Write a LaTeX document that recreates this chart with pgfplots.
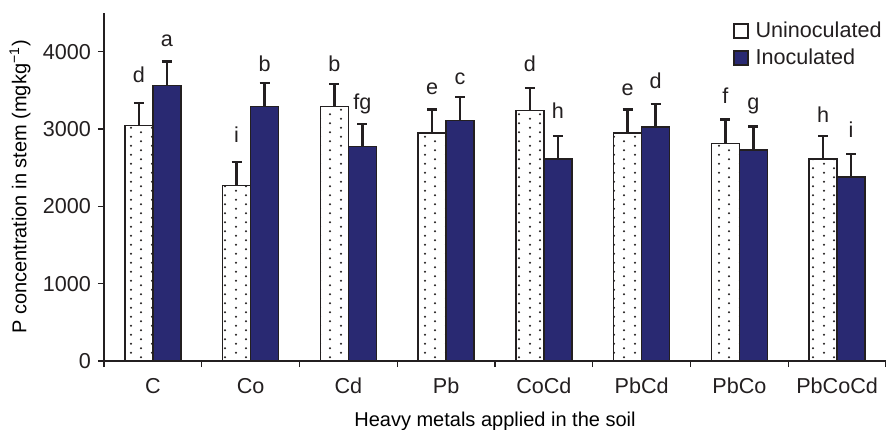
\documentclass[border=0pt]{standalone}
\usepackage{pgfplots}
\pgfplotsset{compat=1.18}
\usepackage{pgfplotstable}
\usepackage{fontspec}
\setmainfont{Liberation Sans}
\usetikzlibrary{patterns}
\definecolor{navy}{RGB}{41,41,114}
\definecolor{ink}{RGB}{35,31,32}
\pgfdeclarepatternformonly{sdots}{\pgfqpoint{0pt}{0pt}}{\pgfqpoint{10.5pt}{4.7pt}}{\pgfqpoint{10.5pt}{4.7pt}}{%
  \pgfpathcircle{\pgfqpoint{2.6pt}{1.2pt}}{0.6pt}%
  \pgfpathcircle{\pgfqpoint{7.85pt}{3.55pt}}{0.6pt}%
  \pgfusepath{fill}}
\newcommand{\ff}{\fontsize{10.8}{13}\selectfont}

\pgfplotstableread{
x un   unerr unlab unly in   inerr inlab inly
0 3044 295   d     3597 3562 310   a     4071
1 2271 300   i     2820 3294 300   b     3748
2 3290 294   b     3748 2772 294   fg    3251
3 2949 302   e     3446 3113 298   c     3575
4 3238 294   d     3748 2612 298   h     3131
5 2949 302   e     3433 3027 298   d     3523
6 2815 307   f     3329 2729 302   g     3251
7 2612 298   h     3087 2379 298   i     2893
}\data

\begin{document}
\begin{tikzpicture}
\useasboundingbox (-52pt,-34pt) rectangle (391pt,180.5pt);
\begin{axis}[
  at={(0pt,0pt)}, anchor=south west,
  scale only axis, width=391pt, height=174pt,
  ybar, bar width=0.286,
  xmin=-0.5, xmax=7.5, ymin=0, ymax=4500,
  axis lines*=left,
  axis line style={ink, line width=0.6pt, -},
  tick align=outside, major tick length=3pt,
  tick style={ink, line width=0.6pt},
  ytick={0,1000,2000,3000,4000},
  yticklabels={0,1000,2000,3000,4000},
  xtick={-0.5,0.5,...,7.5}, xticklabels={,,,,,,,,},
  extra x ticks={0,1,...,7},
  extra x tick labels={C,Co,Cd,Pb,CoCd,PbCd,PbCo,PbCoCd},
  extra x tick style={major tick length=0pt},
  tick label style={font=\ff, text=ink},
  xticklabel style={anchor=base, yshift=-16pt},
  label style={font=\ff, text=ink},
  xlabel={Heavy metals applied in the soil},
  ylabel={P concentration in stem (mgkg\textsuperscript{−1})},
  every axis x label/.style={at={(axis description cs:0.5,0)}, anchor=base, yshift=-32.5pt},
  every axis y label/.style={at={(axis description cs:-0.1074,0.5)}, rotate=90, anchor=center},
  legend style={at={(1,1)}, anchor=north east, xshift=3pt, draw=none, fill=none, font=\ff, text=ink, row sep=0.5pt, column sep=1.5pt},
  legend cell align=left,
]
% patterned fill for uninoculated bars (no legend)
\addplot[draw=none, fill=white, postaction={pattern=sdots, pattern color=ink},
  bar shift=-0.143, forget plot]
  table[x=x, y=un]{\data};
\addplot[draw=ink, line width=0.7pt, fill=none,
  bar shift=-0.143,
  legend image code/.code={\draw[ink, line width=1pt, fill=white] (0pt,-3.5pt) rectangle (7pt,3.5pt);},
  error bars/.cd, y dir=plus, y explicit,
  error bar style={line width=1.2pt, ink},
  error mark options={rotate=90, mark size=2.5pt, line width=1.2pt, ink}]
  table[x=x, y=un, y error=unerr]{\data};
\addlegendentry{Uninoculated}
\addplot[draw=ink, line width=0.7pt, fill=navy,
  bar shift=0.143,
  legend image code/.code={\draw[ink, line width=1pt, fill=navy] (0pt,-3.5pt) rectangle (7pt,3.5pt);},
  error bars/.cd, y dir=plus, y explicit,
  error bar style={line width=1.2pt, ink},
  error mark options={rotate=90, mark size=2.5pt, line width=1.2pt, ink}]
  table[x=x, y=in, y error=inerr]{\data};
\addlegendentry{Inoculated}
\addplot[draw=none, fill=none, bar shift=-0.143, forget plot,
  nodes near coords, point meta=explicit symbolic,
  nodes near coords style={anchor=base, font=\ff, text=ink, inner sep=0pt}]
  table[x=x, y=unly, meta=unlab]{\data};
\addplot[draw=none, fill=none, bar shift=0.143, forget plot,
  nodes near coords, point meta=explicit symbolic,
  nodes near coords style={anchor=base, font=\ff, text=ink, inner sep=0pt}]
  table[x=x, y=inly, meta=inlab]{\data};
\end{axis}
\end{tikzpicture}
\end{document}
